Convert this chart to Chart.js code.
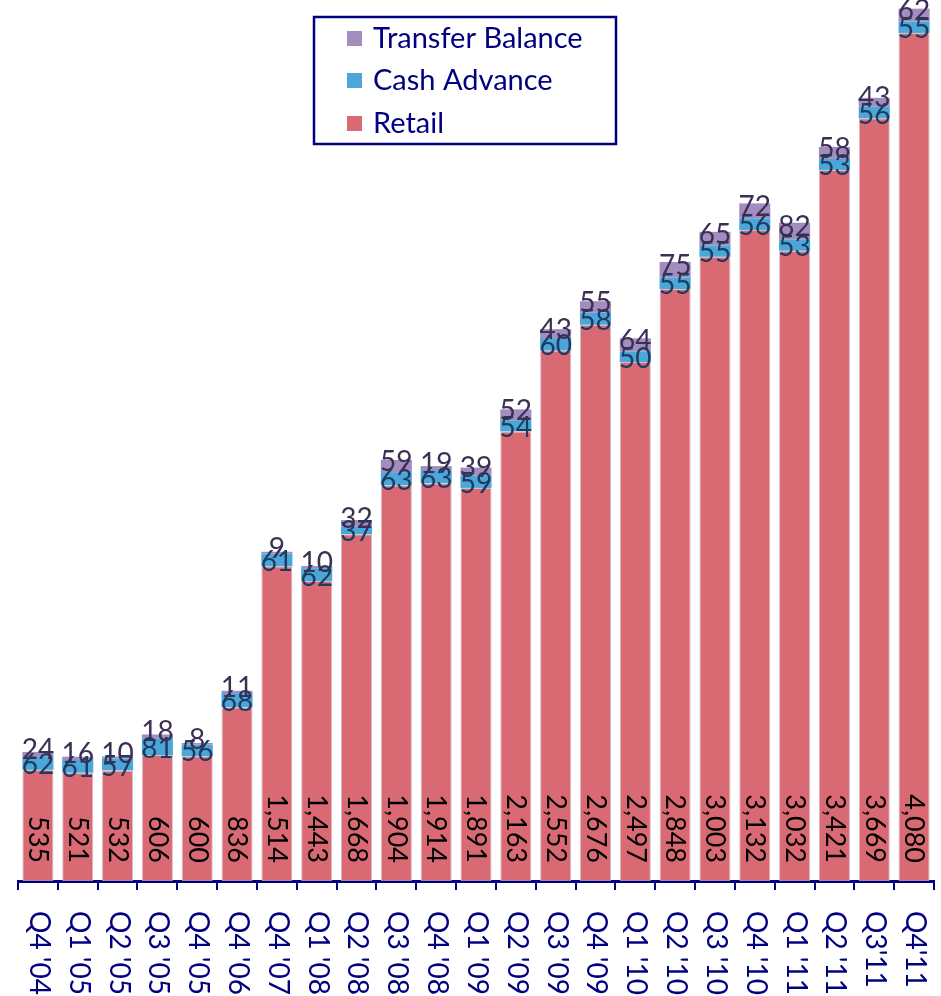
<!DOCTYPE html>
<html>
<head>
<meta charset="utf-8">
<script src="https://cdn.jsdelivr.net/npm/chart.js@4.4.1/dist/chart.umd.min.js"></script>
<style>
  html, body { margin: 0; padding: 0; background: #fff; }
  #wrap { width: 941px; height: 996px; position: relative; }
</style>
</head>
<body>
<div id="wrap"><canvas id="c" width="941" height="996"></canvas></div>
<script>
const categories = ["Q4 '04","Q1 '05","Q2 '05","Q3 '05","Q4 '05","Q4 '06","Q4 '07","Q1 '08","Q2 '08","Q3 '08","Q4 '08","Q1 '09","Q2 '09","Q3 '09","Q4 '09","Q1 '10","Q2 '10","Q3 '10","Q4 '10","Q1 '11","Q2 '11","Q3'11","Q4'11"];
const retail = [535,521,532,606,600,836,1514,1443,1668,1904,1914,1891,2163,2552,2676,2497,2848,3003,3132,3032,3421,3669,4080];
const cashAdvance = [62,61,57,81,56,68,61,62,37,63,63,59,54,60,58,50,55,55,56,53,53,56,55];
const transferBalance = [24,16,10,18,8,11,9,10,32,59,19,39,52,43,55,64,75,65,72,82,58,43,62];

const NAVY = '#000080';
const FONT = 'Lato, "Open Sans", sans-serif';

const labelPlugin = {
  id: 'labels',
  afterDatasetsDraw(chart) {
    const ctx = chart.ctx;
    ctx.save();
    ctx.font = '27px ' + FONT;
    const m0 = chart.getDatasetMeta(0);
    m0.data.forEach((bar, i) => {
      ctx.save();
      ctx.translate(bar.x, bar.base - 18);
      ctx.rotate(Math.PI / 2);
      ctx.fillStyle = '#000000';
      ctx.textAlign = 'right';
      ctx.textBaseline = 'middle';
      ctx.fillText(retail[i].toLocaleString('en-US'), 0, 0);
      ctx.restore();
    });
    ctx.font = '28px ' + FONT;
    const m1 = chart.getDatasetMeta(1);
    ctx.textAlign = 'center';
    ctx.textBaseline = 'middle';
    ctx.fillStyle = '#1E3A5C';
    m1.data.forEach((bar, i) => {
      ctx.fillText(String(cashAdvance[i]), bar.x, (bar.y + bar.base) / 2 + 2);
    });
    const m2 = chart.getDatasetMeta(2);
    ctx.fillStyle = '#3C2F55';
    m2.data.forEach((bar, i) => {
      ctx.fillText(String(transferBalance[i]), bar.x, (bar.y + bar.base) / 2 - 4);
    });
    ctx.restore();
  }
};

const axisLabelPlugin = {
  id: 'xlabels',
  afterDraw(chart) {
    const ctx = chart.ctx;
    const xs = chart.scales.x;
    ctx.save();
    ctx.font = '28px ' + FONT;
    ctx.fillStyle = NAVY;
    ctx.textAlign = 'left';
    ctx.textBaseline = 'middle';
    categories.forEach((c, i) => {
      const x = xs.getPixelForValue(i);
      ctx.save();
      ctx.translate(x + 1, 911);
      ctx.rotate(Math.PI / 2);
      ctx.fillText(c, 0, 0);
      ctx.restore();
    });
    ctx.restore();
  }
};

const legendPlugin = {
  id: 'boxLegend',
  afterDraw(chart) {
    const ctx = chart.ctx;
    ctx.save();
    ctx.strokeStyle = NAVY;
    ctx.lineWidth = 2.5;
    ctx.strokeRect(314, 17, 302, 127);
    const items = [2, 1, 0];
    const ys = [38, 80, 123];
    ctx.font = '29px ' + FONT;
    ctx.textAlign = 'left';
    ctx.textBaseline = 'middle';
    items.forEach((di, k) => {
      const ds = chart.data.datasets[di];
      ctx.fillStyle = ds.backgroundColor;
      ctx.fillRect(347, ys[k] - 7, 15, 15);
      ctx.fillStyle = NAVY;
      ctx.fillText(ds.label, 373, ys[k] + 1);
    });
    ctx.restore();
  }
};

new Chart(document.getElementById('c'), {
  type: 'bar',
  data: {
    labels: categories,
    datasets: [
      { label: 'Retail', data: retail, backgroundColor: '#D96A73', borderColor: 'rgba(200,170,185,0.8)', borderWidth: 1, borderSkipped: false },
      { label: 'Cash Advance', data: cashAdvance, backgroundColor: '#4BA6DA', borderWidth: 0 },
      { label: 'Transfer Balance', data: transferBalance, backgroundColor: '#A28DBE', borderWidth: 0 }
    ]
  },
  options: {
    responsive: false,
    animation: false,
    devicePixelRatio: 1,
    layout: { padding: { left: 18, right: 7, top: 8, bottom: 0 } },
    plugins: { legend: { display: false }, tooltip: { enabled: false } },
    datasets: { bar: { categoryPercentage: 1.0, barPercentage: 0.78 } },
    scales: {
      x: {
        stacked: true,
        offset: true,
        ticks: { display: false },
        grid: { offset: true, drawOnChartArea: false, drawTicks: true, tickLength: 9, color: NAVY, lineWidth: 2 },
        border: { display: true, color: NAVY, width: 3 },
        afterFit(scale) { scale.height = 115; }
      },
      y: {
        stacked: true,
        display: false,
        min: 0,
        max: 4200
      }
    }
  },
  plugins: [labelPlugin, axisLabelPlugin, legendPlugin]
});
</script>
</body>
</html>
